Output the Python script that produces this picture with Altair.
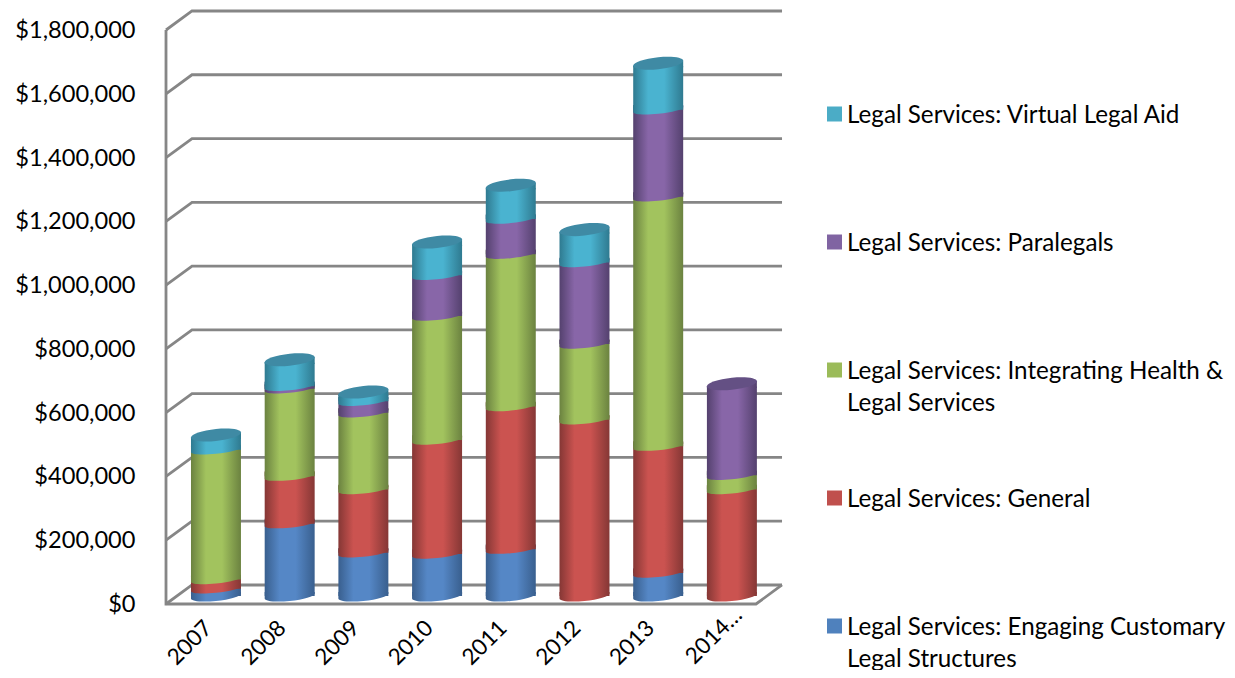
import altair as alt
import pandas as pd

years = ["2007", "2008", "2009", "2010", "2011", "2012", "2013", "2014…"]
customary = [23000, 227000, 136000, 132000, 147000, 0, 72000, 0]
general = [29000, 149000, 198000, 357000, 447000, 553000, 398000, 334000]
health = [407000, 274000, 241000, 389000, 478000, 237000, 782000, 45000]
paralegals = [0, 8000, 36000, 128000, 110000, 256000, 273000, 287000]
virtual = [46000, 83000, 29000, 104000, 106000, 103000, 146000, 0]

names = ["Customary", "General", "Health", "Paralegals", "Virtual"]
values = [customary, general, health, paralegals, virtual]
mids = ["#5587c6", "#cb5350", "#a2c35e", "#8866a8", "#4ab3d0"]
edges = ["#395f8e", "#853735", "#6b8240", "#54416e", "#2f7a90"]
caps = ["#3f6a9c", "#a03f3d", "#7d9a46", "#645084", "#3f8aa4"]

legend_labels = [
    "Legal Services: Virtual Legal Aid",
    "Legal Services: Paralegals",
    "Legal Services: Integrating Health &\nLegal Services",
    "Legal Services: General",
    "Legal Services: Engaging Customary\nLegal Structures",
]
legend_colors = ["#4bacc6", "#8064a2", "#9bbb59", "#c0504d", "#4f81bd"]

ticks = list(range(0, 2000000, 200000))
FONT = "Lato"
FS = 24.2
AXFS = 23.6
GRID = "#868686"

x_left, x_right = -0.678, 7.327
x_back_left, x_back_right = -0.325, 7.68
depth = 59600     # back wall rises by this many dollars
shift = 25000     # cylinders stand slightly behind the front edge
half = 0.339

xs = alt.Scale(domain=[x_left, x_right], nice=False, zero=False)
ys = alt.Scale(domain=[0, 1800000], nice=False, zero=False)
xax = alt.Axis(
    values=list(range(len(years))), title=None, grid=False, domain=False, ticks=False,
    labelExpr="['" + "','".join(years) + "'][datum.value]",
    labelAngle=-45, labelAlign="right", labelBaseline="middle",
    labelPadding={"condition": {"test": "datum.value == 7", "value": 7}, "value": 20},
    labelOffset={"condition": {"test": "datum.value == 7", "value": 6}, "value": -8},
    labelFont=FONT, labelFontSize=22.5, labelColor="#000000", labelOverlap=False, labelBound=False, labelFlush=False)
yax = alt.Axis(
    values=ticks, format="$,.0f", title=None, grid=False, domain=False, ticks=False,
    labelPadding=31, labelFont=FONT, labelFontSize=AXFS, labelColor="#000000", labelOverlap=False,
    labelBound=False, labelFlush=False, labelOffset=0.5)

TILT = 0.1
K = 0.5523


def half_path(ry):
    return (f"M-1,{TILT} C-1,{K*ry+TILT:.4f} {-K},{ry+K*TILT:.4f} 0,{ry} "
            f"C{K},{ry-K*TILT:.4f} 1,{K*ry-TILT:.4f} 1,{-TILT} L1,-0.16 L-1,-0.16 Z")


def full_path(ry):
    return (f"M-1,{TILT} C-1,{K*ry+TILT:.4f} {-K},{ry+K*TILT:.4f} 0,{ry} "
            f"C{K},{ry-K*TILT:.4f} 1,{K*ry-TILT:.4f} 1,{-TILT} "
            f"C1,{-K*ry-TILT:.4f} {K},{-ry-K*TILT:.4f} 0,{-ry} "
            f"C{-K},{-ry+K*TILT:.4f} -1,{-K*ry+TILT:.4f} -1,{TILT} Z")


TOP_EDGE = f"M-1,{TILT} L1,{-TILT} L1,0.16 L-1,0.16 Z"

# walls
rows = []
for t in ticks:
    rows += [
        {"g": t, "o": 0, "x": x_left, "y": t},
        {"g": t, "o": 1, "x": x_back_left, "y": t + depth},
        {"g": t, "o": 2, "x": x_back_right, "y": t + depth},
    ]
for o, (px, py) in enumerate([(x_back_right, depth), (x_right, 0), (x_left, 0), (x_left, 1800000)]):
    rows.append({"g": "frame", "o": o, "x": px, "y": py})
walls = pd.DataFrame(rows)

base = alt.Chart(walls).mark_line(color=GRID, strokeWidth=2.8, strokeJoin="miter", clip=False).encode(
    x=alt.X("x:Q", scale=xs, axis=xax),
    y=alt.Y("y:Q", scale=ys, axis=yax),
    detail="g:N", order="o:Q",
)

layers = [base]

LOWER = half_path(0.16)
BASE_LOWER = half_path(0.2)
CAP = full_path(0.24)
SIZE = 2500

cum = [0] * len(years)
for s, name in enumerate(names):
    recs = []
    for i in range(len(years)):
        v = values[s][i]
        if v > 0:
            above = sum(values[k][i] for k in range(s + 1, len(names)))
            hi = cum[i] + v + shift
            recs.append({
                "x": i, "xa": i - half, "xb": i + half,
                "lo": cum[i] + shift, "hi": hi,
                # the part above a segment is painted over by the next one;
                # the topmost stops just under its tilted top edge
                "bar_hi": hi - 9400 if above == 0 else hi + 15000,
                "first": cum[i] == 0, "top": above == 0,
            })
            cum[i] += v
    df = pd.DataFrame(recs)
    grad = alt.Gradient(gradient="linear", x1=0, x2=1, y1=0, y2=0, stops=[
        alt.GradientStop(offset=0, color=edges[s]),
        alt.GradientStop(offset=0.3, color=mids[s]),
        alt.GradientStop(offset=0.62, color=mids[s]),
        alt.GradientStop(offset=1, color=edges[s]),
    ])
    bar = alt.Chart(df).mark_bar(fill=grad).encode(
        x=alt.X("xa:Q", scale=xs, axis=xax), x2="xb:Q",
        y=alt.Y("lo:Q", scale=ys, axis=yax), y2="bar_hi:Q")

    def sym(flt, shape, field, fill):
        return alt.Chart(df).transform_filter(flt).mark_point(
            shape=shape, size=SIZE, filled=True, fill=fill, opacity=1, strokeWidth=0).encode(
            x=alt.X("x:Q", scale=xs, axis=xax), y=alt.Y(field + ":Q", scale=ys, axis=yax))

    layers += [
        bar,
        sym("!datum.first", LOWER, "lo", grad),
        sym("datum.first", BASE_LOWER, "lo", grad),
        sym("datum.top", TOP_EDGE, "hi", grad),
        sym("datum.top", CAP, "hi", caps[s]),
    ]

# legend, drawn in the chart's own margin
for k, (lab, col) in enumerate(zip(legend_labels, legend_colors)):
    d = pd.DataFrame({"label": [lab]})
    ypx = 84 + 128 * k
    layers.append(alt.Chart(d).mark_square(size=225, color=col, filled=True, opacity=1).encode(
        x=alt.value(668.5), y=alt.value(ypx)))
    layers.append(alt.Chart(d).mark_text(
        align="left", baseline="middle", font=FONT, fontSize=FS, color="#000000",
        lineBreak="\n", lineHeight=32).encode(
        x=alt.value(681), y=alt.value(ypx + 1.5), text="label:N"))

chart = alt.layer(*layers).properties(
    width=590, height=574,
    autosize=alt.AutoSizeParams(type="none"),
    padding={"left": 158, "top": 22, "right": 471, "bottom": 66},
    background="#ffffff",
).configure_view(stroke=None)

chart.save("out.html", embed_options={"renderer": "svg", "actions": False})
